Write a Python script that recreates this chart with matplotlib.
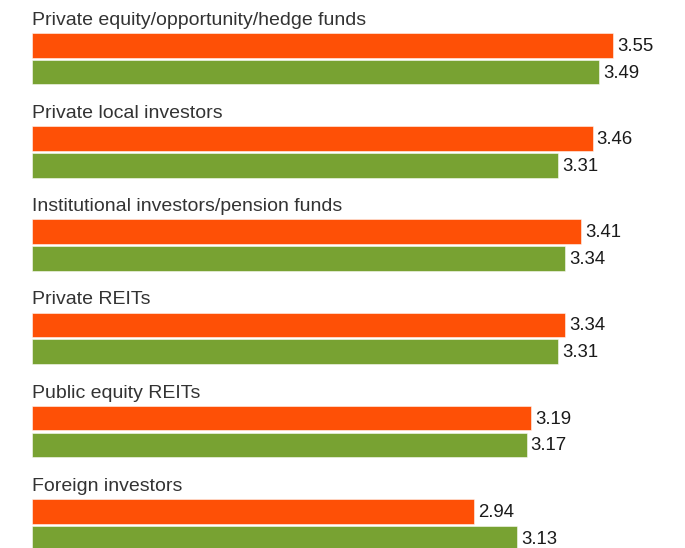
import matplotlib
matplotlib.use("Agg")
import matplotlib.pyplot as plt
import numpy as np

categories = [
    "Private equity/opportunity/hedge funds",
    "Private local investors",
    "Institutional investors/pension funds",
    "Private REITs",
    "Public equity REITs",
    "Foreign investors",
]
series_a = [3.55, 3.46, 3.41, 3.34, 3.19, 2.94]  # orange
series_b = [3.49, 3.31, 3.34, 3.31, 3.17, 3.13]  # green

color_a = "#FE5006"
color_b = "#78A232"

plt.rcParams['font.family'] = ['Liberation Sans', 'DejaVu Sans']

W, H = 685, 548
fig = plt.figure(figsize=(W / 100, H / 100), dpi=100)
left_px = 32
ax = fig.add_axes([left_px / W, 0, 1 - left_px / W, 1])

px_per_unit = 227.9
x0 = 1.0
ax.set_xlim(x0, x0 + (W - left_px) / px_per_unit)

group_px = 93.2
first_center_px = 45.3
ax.set_ylim((H - first_center_px) / group_px, -first_center_px / group_px)

n = len(categories)
pos = np.arange(n)
off = 26.7 / group_px
bh = 24.6 / group_px

ax.barh(pos, np.array(series_a) - x0, left=x0, height=bh, color=color_a,
        edgecolor=(1, 1, 1, 0.6), linewidth=0.6)
ax.barh(pos + off, np.array(series_b) - x0, left=x0, height=bh, color=color_b,
        edgecolor=(1, 1, 1, 0.6), linewidth=0.6)

for i in range(n):
    ax.text(x0, pos[i] - 20.5 / group_px, categories[i], ha='left', va='baseline',
            fontsize=14, color='#333333', clip_on=False)
    ax.annotate(f"{series_a[i]:.2f}", xy=(series_a[i], pos[i]), xytext=(4, -1),
                textcoords='offset pixels', ha='left', va='center',
                fontsize=13.4, color='#1a1a1a')
    ax.annotate(f"{series_b[i]:.2f}", xy=(series_b[i], pos[i] + off), xytext=(4, -1),
                textcoords='offset pixels', ha='left', va='center',
                fontsize=13.4, color='#1a1a1a')

ax.axis('off')
fig.savefig("out.png", dpi=100)
